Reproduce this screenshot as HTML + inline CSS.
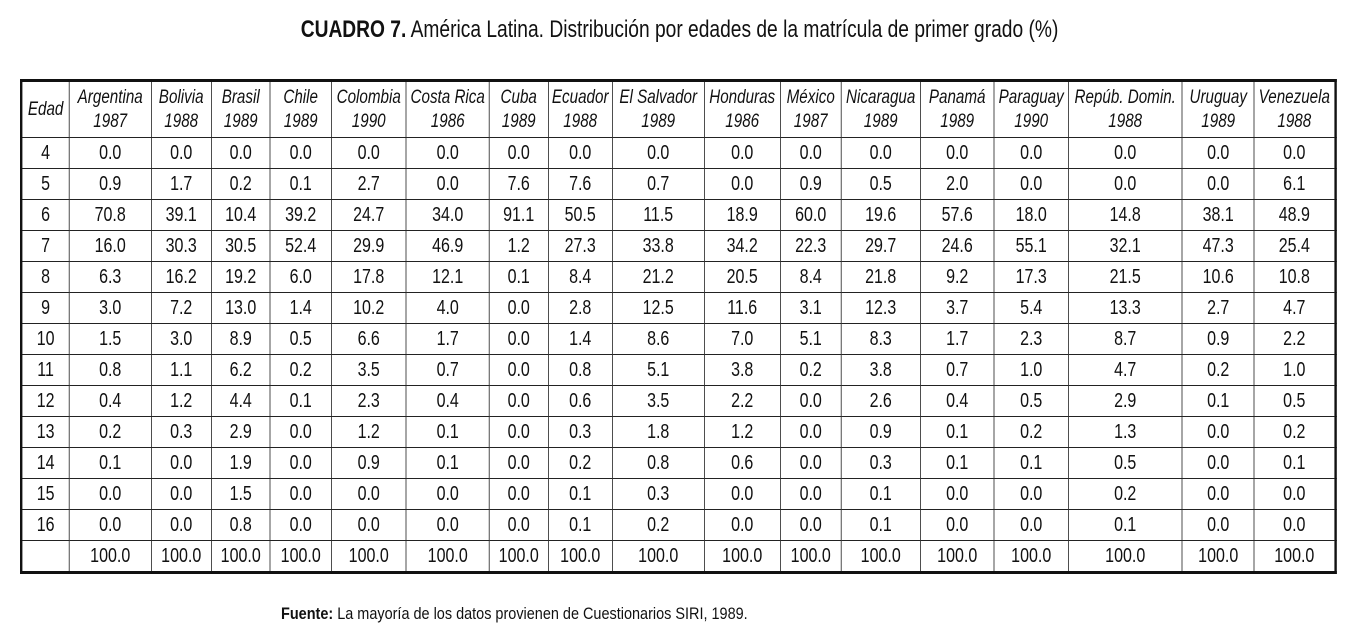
<!DOCTYPE html>
<html><head><meta charset="utf-8"><style>
body{margin:0;width:1360px;height:642px;background:#fff;position:relative;overflow:hidden;font-family:"Liberation Sans",sans-serif;color:#111}
#title{position:absolute;left:0;width:1360px;top:16px;text-align:center;white-space:nowrap}
#title span{display:inline-block;font-size:24px;transform:scaleX(0.8);transform-origin:center}
table{position:absolute;left:20px;top:79px;width:1644px;border-collapse:collapse;table-layout:fixed;border:3px solid #111;font-size:17px;transform:scaleX(0.8);transform-origin:0 0}
td,th{border:1px solid #222;text-align:center;padding:0;height:30px;line-height:20px;white-space:nowrap;overflow:hidden}
th{font-weight:normal;font-style:italic;height:55px;font-size:19px;line-height:24px}
td{font-size:20px}
#foot{position:absolute;left:281px;top:604px;white-space:nowrap}
#foot span{display:inline-block;font-size:17px;transform:scaleX(0.85);transform-origin:0 0}
</style></head><body>
<div id="title"><span><b>CUADRO 7.</b> América Latina. Distribución por edades de la matrícula de primer grado (%)</span></div>
<table>
<colgroup><col style="width:60px"><col style="width:102.5px"><col style="width:75px"><col style="width:73.75px"><col style="width:76.25px"><col style="width:93.75px"><col style="width:103.75px"><col style="width:73.75px"><col style="width:80px"><col style="width:115px"><col style="width:95px"><col style="width:76.25px"><col style="width:98.75px"><col style="width:92.5px"><col style="width:92.5px"><col style="width:142.5px"><col style="width:90px"><col style="width:101.25px"></colgroup>
<tr><th>Edad</th><th>Argentina<br>1987</th><th>Bolivia<br>1988</th><th>Brasil<br>1989</th><th>Chile<br>1989</th><th>Colombia<br>1990</th><th>Costa Rica<br>1986</th><th>Cuba<br>1989</th><th>Ecuador<br>1988</th><th>El Salvador<br>1989</th><th>Honduras<br>1986</th><th>México<br>1987</th><th>Nicaragua<br>1989</th><th>Panamá<br>1989</th><th>Paraguay<br>1990</th><th>Repúb. Domin.<br>1988</th><th>Uruguay<br>1989</th><th>Venezuela<br>1988</th></tr>
<tr><td>4</td><td>0.0</td><td>0.0</td><td>0.0</td><td>0.0</td><td>0.0</td><td>0.0</td><td>0.0</td><td>0.0</td><td>0.0</td><td>0.0</td><td>0.0</td><td>0.0</td><td>0.0</td><td>0.0</td><td>0.0</td><td>0.0</td><td>0.0</td></tr>
<tr><td>5</td><td>0.9</td><td>1.7</td><td>0.2</td><td>0.1</td><td>2.7</td><td>0.0</td><td>7.6</td><td>7.6</td><td>0.7</td><td>0.0</td><td>0.9</td><td>0.5</td><td>2.0</td><td>0.0</td><td>0.0</td><td>0.0</td><td>6.1</td></tr>
<tr><td>6</td><td>70.8</td><td>39.1</td><td>10.4</td><td>39.2</td><td>24.7</td><td>34.0</td><td>91.1</td><td>50.5</td><td>11.5</td><td>18.9</td><td>60.0</td><td>19.6</td><td>57.6</td><td>18.0</td><td>14.8</td><td>38.1</td><td>48.9</td></tr>
<tr><td>7</td><td>16.0</td><td>30.3</td><td>30.5</td><td>52.4</td><td>29.9</td><td>46.9</td><td>1.2</td><td>27.3</td><td>33.8</td><td>34.2</td><td>22.3</td><td>29.7</td><td>24.6</td><td>55.1</td><td>32.1</td><td>47.3</td><td>25.4</td></tr>
<tr><td>8</td><td>6.3</td><td>16.2</td><td>19.2</td><td>6.0</td><td>17.8</td><td>12.1</td><td>0.1</td><td>8.4</td><td>21.2</td><td>20.5</td><td>8.4</td><td>21.8</td><td>9.2</td><td>17.3</td><td>21.5</td><td>10.6</td><td>10.8</td></tr>
<tr><td>9</td><td>3.0</td><td>7.2</td><td>13.0</td><td>1.4</td><td>10.2</td><td>4.0</td><td>0.0</td><td>2.8</td><td>12.5</td><td>11.6</td><td>3.1</td><td>12.3</td><td>3.7</td><td>5.4</td><td>13.3</td><td>2.7</td><td>4.7</td></tr>
<tr><td>10</td><td>1.5</td><td>3.0</td><td>8.9</td><td>0.5</td><td>6.6</td><td>1.7</td><td>0.0</td><td>1.4</td><td>8.6</td><td>7.0</td><td>5.1</td><td>8.3</td><td>1.7</td><td>2.3</td><td>8.7</td><td>0.9</td><td>2.2</td></tr>
<tr><td>11</td><td>0.8</td><td>1.1</td><td>6.2</td><td>0.2</td><td>3.5</td><td>0.7</td><td>0.0</td><td>0.8</td><td>5.1</td><td>3.8</td><td>0.2</td><td>3.8</td><td>0.7</td><td>1.0</td><td>4.7</td><td>0.2</td><td>1.0</td></tr>
<tr><td>12</td><td>0.4</td><td>1.2</td><td>4.4</td><td>0.1</td><td>2.3</td><td>0.4</td><td>0.0</td><td>0.6</td><td>3.5</td><td>2.2</td><td>0.0</td><td>2.6</td><td>0.4</td><td>0.5</td><td>2.9</td><td>0.1</td><td>0.5</td></tr>
<tr><td>13</td><td>0.2</td><td>0.3</td><td>2.9</td><td>0.0</td><td>1.2</td><td>0.1</td><td>0.0</td><td>0.3</td><td>1.8</td><td>1.2</td><td>0.0</td><td>0.9</td><td>0.1</td><td>0.2</td><td>1.3</td><td>0.0</td><td>0.2</td></tr>
<tr><td>14</td><td>0.1</td><td>0.0</td><td>1.9</td><td>0.0</td><td>0.9</td><td>0.1</td><td>0.0</td><td>0.2</td><td>0.8</td><td>0.6</td><td>0.0</td><td>0.3</td><td>0.1</td><td>0.1</td><td>0.5</td><td>0.0</td><td>0.1</td></tr>
<tr><td>15</td><td>0.0</td><td>0.0</td><td>1.5</td><td>0.0</td><td>0.0</td><td>0.0</td><td>0.0</td><td>0.1</td><td>0.3</td><td>0.0</td><td>0.0</td><td>0.1</td><td>0.0</td><td>0.0</td><td>0.2</td><td>0.0</td><td>0.0</td></tr>
<tr><td>16</td><td>0.0</td><td>0.0</td><td>0.8</td><td>0.0</td><td>0.0</td><td>0.0</td><td>0.0</td><td>0.1</td><td>0.2</td><td>0.0</td><td>0.0</td><td>0.1</td><td>0.0</td><td>0.0</td><td>0.1</td><td>0.0</td><td>0.0</td></tr>
<tr><td></td><td>100.0</td><td>100.0</td><td>100.0</td><td>100.0</td><td>100.0</td><td>100.0</td><td>100.0</td><td>100.0</td><td>100.0</td><td>100.0</td><td>100.0</td><td>100.0</td><td>100.0</td><td>100.0</td><td>100.0</td><td>100.0</td><td>100.0</td></tr>
</table>
<div id="foot"><span><b>Fuente:</b> La mayoría de los datos provienen de Cuestionarios SIRI, 1989.</span></div>
</body></html>
